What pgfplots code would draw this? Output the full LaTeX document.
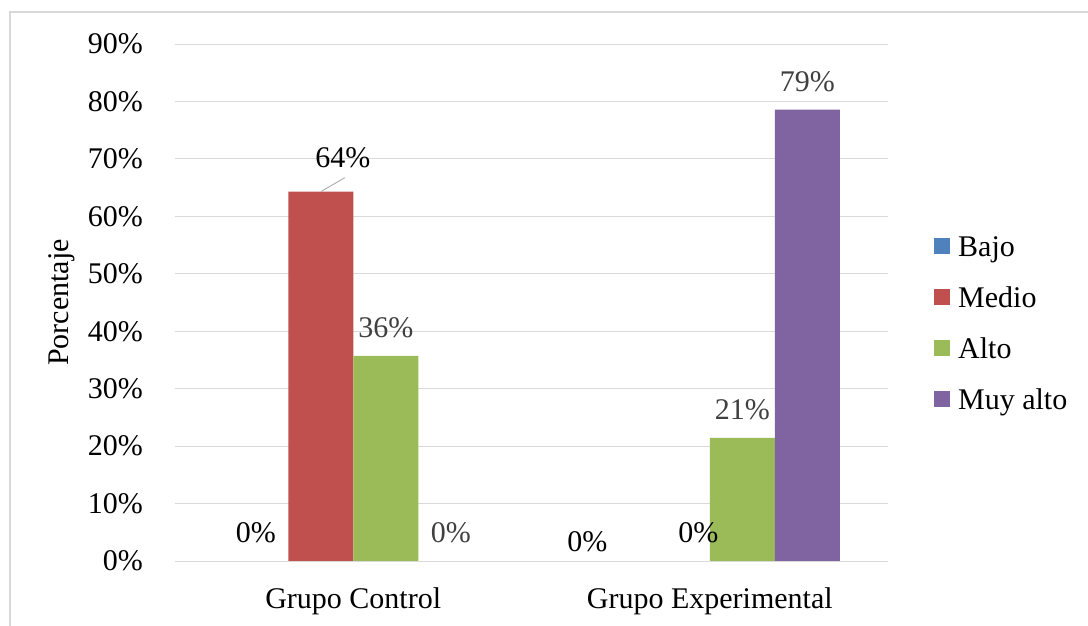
\documentclass[border=0pt]{standalone}
\usepackage{pgfplots}
\pgfplotsset{compat=1.18}
\usepackage{fontspec}
\setmainfont{Liberation Serif}
\definecolor{cBajo}{HTML}{4F81BD}
\definecolor{cMedio}{HTML}{C0504D}
\definecolor{cAlto}{HTML}{9BBB59}
\definecolor{cMuy}{HTML}{8064A2}
\definecolor{grd}{HTML}{D9D9D9}
\definecolor{lbl}{HTML}{404040}
\begin{document}
\fontsize{30bp}{36bp}\selectfont
\begin{tikzpicture}
\useasboundingbox (0,0) rectangle (1088bp,626bp);
\draw[grd, line width=1.5bp] (10bp,0) -- (10bp,614bp) -- (1088bp,614bp);
\begin{axis}[
    at={(175bp,65bp)}, anchor=south west,
    scale only axis,
    width=713bp, height=517bp,
    ybar=0pt, bar width=65bp,
    xmin=-0.5, xmax=1.5,
    ymin=0, ymax=90,
    xtick={0,1},
    xticklabels={Grupo Control, Grupo Experimental},
    ytick={0,10,...,90},
    yticklabel={\pgfmathprintnumber{\tick}\%},
    /pgf/number format/assume math mode=true,
    axis line style={draw=none},
    major tick length=0pt,
    ymajorgrids,
    grid style={grd, line width=1bp},
    yticklabel style={inner sep=0pt, anchor=east, xshift=-32bp},
    xticklabel style={inner sep=0pt, anchor=north, yshift=-26bp},
    ylabel={Porcentaje},
    every axis y label/.style={at={(axis description cs:-0.1585,0.5)}, rotate=90, anchor=center,
        inner sep=0pt, font=\fontsize{30bp}{36bp}\selectfont},
    nodes near coords={\pgfmathprintnumber[fixed,precision=0]{\pgfplotspointmeta}\%},
    nodes near coords style={inner sep=0pt, anchor=south, yshift=18bp, font=\fontsize{30bp}{36bp}\selectfont},
    legend style={draw=none, fill=none, inner sep=0pt,
        at={(1.0645,0.455)}, anchor=west,
        row sep=23bp,
        nodes={inner sep=0pt, text height=21bp, text depth=7bp},
        /tikz/every odd column/.append style={column sep=8bp}},
    legend cell align=left,
    legend image code/.code={\fill[#1] (0bp,-5bp) rectangle (16bp,11bp);},
]
\addplot[fill=cBajo, draw=none,
    coordinate style/.condition={\coordindex==1}{xshift=-25bp, yshift=-9bp}]
    coordinates {(0,0) (1,0)};
\addplot[fill=cMedio, draw=none,
    coordinate style/.condition={\coordindex==0}{xshift=22bp, yshift=6bp},
    coordinate style/.condition={\coordindex==1}{xshift=21bp}]
    coordinates {(0,64.29) (1,0)};
\addplot[fill=cAlto, draw=none,
    every node near coord/.append style={text=lbl}]
    coordinates {(0,35.71) (1,21.43)};
\addplot[fill=cMuy, draw=none,
    every node near coord/.append style={text=lbl}]
    coordinates {(0,0) (1,78.57)};
\legend{Bajo, Medio, Alto, Muy alto}
\draw[black!30, line width=1bp] ([xshift=-32.5bp]axis cs:0,64.29) -- ++(24bp,14bp);
\end{axis}
\end{tikzpicture}
\end{document}
